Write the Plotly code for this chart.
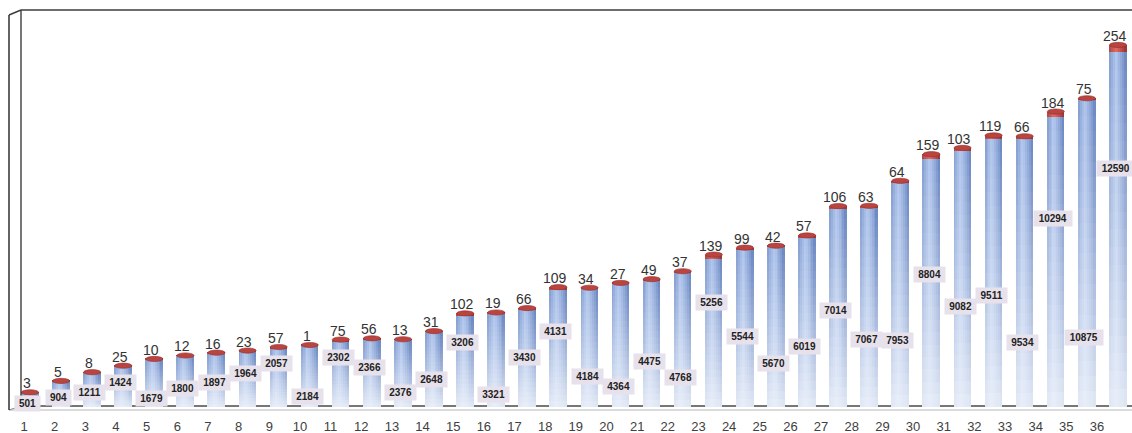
import plotly.graph_objects as go

# ---- data -------------------------------------------------------------
categories = list(range(1, 37))
base_values = [501, 904, 1211, 1424, 1679, 1800, 1897, 1964, 2057, 2184,
               2302, 2366, 2376, 2648, 3206, 3321, 3430, 4131, 4184, 4364,
               4475, 4768, 5256, 5544, 5670, 6019, 7014, 7067, 7953, 8804,
               9082, 9511, 9534, 10294, 10875, 12590]
top_values = [3, 5, 8, 25, 10, 12, 16, 23, 57, 1,
              75, 56, 13, 31, 102, 19, 66, 109, 34, 27,
              49, 37, 139, 99, 42, 57, 106, 63, 64, 159,
              103, 119, 66, 184, 75, 254]
tick_labels = [str(c) for c in categories]

# height (axis units) at which each base-value label box sits
label_height = [124, 337, 480, 835, 302, 622, 835, 1190, 1510, 373,
                1758, 1403, 515, 977, 2256, 409, 1758, 2682, 1083, 693,
                1581, 1048, 3712, 2504, 1545, 2149, 3393, 2398, 2362, 4707,
                3535, 3961, 2291, 6661, 2469, 8472]

# ---- geometry / style -------------------------------------------------
W, H = 1132, 433
MB = 18                      # bottom margin for the category labels
PLOT_H = H - MB
PX_PER_UNIT = 0.02815        # vertical scale
ZERO_PX = 406.5              # pixel row of value 0
Y_RANGE = [-(PLOT_H - ZERO_PX) / PX_PER_UNIT, ZERO_PX / PX_PER_UNIT]
X_RANGE_BARS = [0.035, 36.45]
X_RANGE_LABELS = [0.2171, 37.1417]
BAR_W = 0.55
NS = 9                       # vertical strips across a cylinder
NV = 20                      # stacked slices for the vertical fade


def lerp(a, b, t):
    return tuple(a[i] + (b[i] - a[i]) * t for i in range(3))


def rgb(c):
    return "rgb({:.0f},{:.0f},{:.0f})".format(*c)


def profile(j):
    t = (j + 0.5) / NS
    s = max(0.0, 1 - abs(t - 0.42) / 0.58)
    return s ** 0.8


BLUE_EDGE = (96, 126, 188)
BLUE_HI = (180, 201, 238)
FADE_TO = (240, 244, 251)
RED_EDGE = (150, 45, 42)
RED_HI = (224, 108, 102)

fig = go.Figure()
sw = BAR_W / NS

# blue cylinders: strips across, slices up
for j in range(NS):
    top_col = lerp(BLUE_EDGE, BLUE_HI, profile(j))
    for k in range(NV):
        fade = 1 - (k + 0.5) / NV
        col = lerp(top_col, FADE_TO, 0.88 * fade ** 1.1)
        fig.add_trace(go.Bar(
            x=categories,
            y=[v / NV for v in base_values],
            base=[v * k / NV for v in base_values],
            width=sw * 1.02, offset=-BAR_W / 2 + j * sw,
            marker=dict(color=rgb(col), line=dict(width=0)),
            hoverinfo="skip", showlegend=False,
        ))

# red top segments
for j in range(NS):
    col = lerp(RED_EDGE, RED_HI, profile(j))
    fig.add_trace(go.Bar(
        x=categories, y=top_values, base=base_values,
        width=sw * 1.02, offset=-BAR_W / 2 + j * sw,
        marker=dict(color=rgb(col), line=dict(width=0)),
        hoverinfo="skip", showlegend=False,
    ))

# invisible trace carrying the category axis
fig.add_trace(go.Scatter(x=categories, y=[0] * len(categories), xaxis="x2",
                         mode="markers", marker=dict(opacity=0),
                         hoverinfo="skip", showlegend=False))

totals = [b + t for b, t in zip(base_values, top_values)]
cap_half = 2.6 / PX_PER_UNIT

shapes = []
# elliptical caps on top of every cylinder
for c, tot in zip(categories, totals):
    shapes.append(dict(type="circle", xref="x", yref="y",
                       x0=c - BAR_W / 2, x1=c + BAR_W / 2,
                       y0=tot - cap_half, y1=tot + cap_half,
                       fillcolor="rgb(186,68,64)",
                       line=dict(color="rgb(150,45,42)", width=0.6),
                       layer="above"))


def px_line(x0, y0, x1, y1, color, width, layer="above"):
    return dict(type="line", xref="paper", yref="paper",
                x0=x0 / W, x1=x1 / W,
                y0=1 - y0 / PLOT_H, y1=1 - y1 / PLOT_H,
                line=dict(color=color, width=width), layer=layer)


# 3-D frame: back wall, side wall and floor edges
dark = "#3c3c3c"
shapes += [
    px_line(21, 10, W, 10, dark, 1.6),
    px_line(9, 15, 21, 10, dark, 1.4),
    px_line(9, 15, 9, 410, dark, 1.6),
    px_line(21, 10, 21, 406, dark, 1.4),
    px_line(21, 406, W, 406, "#4a4a4a", 1.3, "below"),
    px_line(9, 410, W, 410, "#b8b8b8", 1.2, "below"),
    px_line(9, 410, 21, 406, "#8a8a8a", 1.0, "below"),
]

annotations = []
# values of the top segments, above each cap
for c, tot, tv in zip(categories, totals, top_values):
    annotations.append(dict(x=c - 0.1, y=tot, xref="x", yref="y",
                            text=str(tv), showarrow=False,
                            yanchor="bottom", yshift=-1,
                            font=dict(family="Liberation Sans", size=14,
                                      color="#333333")))
# values of the base segments, in label boxes
for c, h, bv in zip(categories, label_height, base_values):
    n = len(str(bv))
    annotations.append(dict(x=c - 0.08, y=h, xref="x", yref="y",
                            text="<b>%d</b>" % bv, showarrow=False,
                            bgcolor="#e6e1eb", borderpad=2,
                            width=n * 6.3 + 2, height=11,
                            font=dict(family="Liberation Sans", size=10,
                                      color="#222222")))

fig.update_layout(
    width=W, height=H,
    margin=dict(l=0, r=0, t=0, b=MB),
    paper_bgcolor="white", plot_bgcolor="white",
    barmode="overlay", bargap=0,
    xaxis=dict(range=X_RANGE_BARS, showticklabels=False, showgrid=False,
               zeroline=False, showline=False, ticks=""),
    xaxis2=dict(range=X_RANGE_LABELS, overlaying="x", anchor="y",
                side="bottom", tickmode="array", tickvals=categories,
                ticktext=tick_labels, showgrid=False, zeroline=False,
                showline=False, ticks="", ticklabelstandoff=2,
                tickfont=dict(family="Liberation Sans", size=13,
                              color="#404040")),
    yaxis=dict(range=Y_RANGE, visible=False, showgrid=False, zeroline=False),
    shapes=shapes,
    annotations=annotations,
    showlegend=False,
)

fig.write_html("out.html")
